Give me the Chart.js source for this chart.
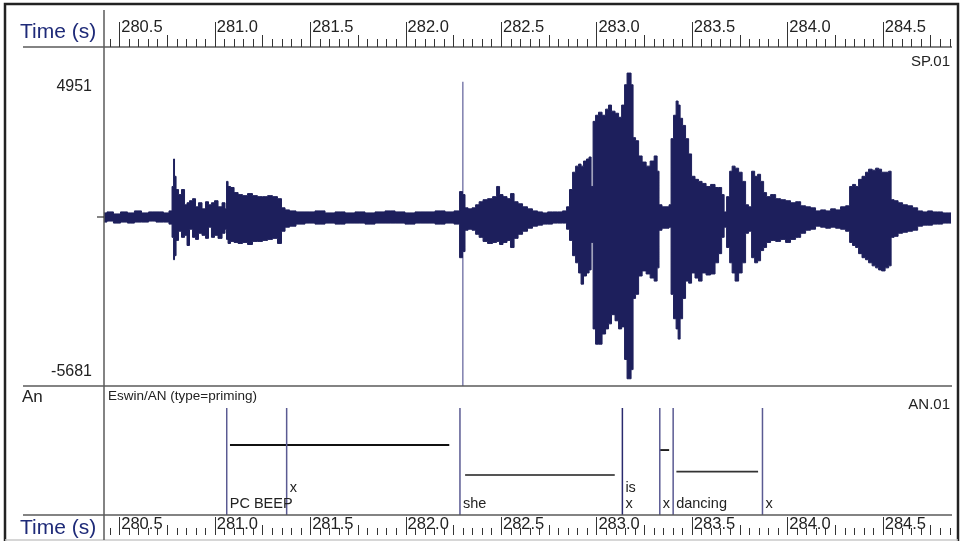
<!DOCTYPE html>
<html lang="en">
<head>
  <meta charset="UTF-8" />
  <title>SP.01 / AN.01 – waveform and annotation</title>
  <script src="https://cdn.jsdelivr.net/npm/chart.js"></script>
  <style>
    html, body { margin: 0; padding: 0; background: #fff; }
    canvas { display: block; }
  </style>
</head>
<body>
  <canvas id="wave" width="966" height="547"></canvas>

  <script>
    // time window shown (s)
    const timeMin = 280.420;
    const timeMax = 284.863;
    const timeTickLabels = ['280.5', '281.0', '281.5', '282.0', '282.5', '283.0', '283.5', '284.0', '284.5'];

    // amplitude labels
    const ampMax = 4951;
    const ampMin = -5681;

    // waveform envelope: time (s), max and min sample values
    const waveTimes = [
      280.420, 280.451, 280.488, 280.525, 280.561, 280.598, 280.635, 280.672, 280.713, 280.750,
      280.771, 280.782, 280.787, 280.792, 280.803, 280.818, 280.834, 280.850, 280.860, 280.876,
      280.892, 280.907, 280.923, 280.944, 280.960, 280.975, 280.991, 281.007, 281.028, 281.049,
      281.059, 281.065, 281.075, 281.091, 281.112, 281.133, 281.159, 281.185, 281.211, 281.237,
      281.264, 281.290, 281.316, 281.342, 281.358, 281.379, 281.405, 281.447, 281.499, 281.552,
      281.604, 281.657, 281.709, 281.761, 281.814, 281.866, 281.919, 281.971, 282.023, 282.076,
      282.128, 282.181, 282.233, 282.275, 282.291, 282.306, 282.317, 282.338, 282.359, 282.375,
      282.396, 282.416, 282.443, 282.469, 282.485, 282.500, 282.521, 282.542, 282.558, 282.579,
      282.600, 282.626, 282.652, 282.678, 282.705, 282.731, 282.757, 282.783, 282.809, 282.836,
      282.851, 282.867, 282.883, 282.899, 282.914, 282.925, 282.940, 282.956, 282.967, 282.977,
      282.988, 283.003, 283.019, 283.040, 283.056, 283.071, 283.087, 283.108, 283.124, 283.140,
      283.155, 283.166, 283.176, 283.187, 283.197, 283.213, 283.229, 283.250, 283.271, 283.292,
      283.313, 283.323, 283.333, 283.354, 283.375, 283.386, 283.396, 283.412, 283.423, 283.433,
      283.444, 283.459, 283.475, 283.491, 283.506, 283.527, 283.543, 283.564, 283.585, 283.611,
      283.632, 283.648, 283.664, 283.674, 283.690, 283.706, 283.716, 283.737, 283.753, 283.774,
      283.789, 283.805, 283.821, 283.837, 283.852, 283.868, 283.884, 283.899, 283.926, 283.952,
      283.978, 284.004, 284.030, 284.057, 284.083, 284.109, 284.135, 284.161, 284.188, 284.214,
      284.240, 284.266, 284.292, 284.319, 284.334, 284.350, 284.366, 284.381, 284.402, 284.418,
      284.434, 284.455, 284.471, 284.486, 284.502, 284.523, 284.539, 284.549, 284.570, 284.591,
      284.617, 284.643, 284.670, 284.696, 284.722, 284.748, 284.774, 284.801, 284.827, 284.858
    ];
    const waveUpper = [
      140, 175, 105, 175, 140, 210, 140, 175, 175, 140,
      210, 1050, 1995, 1400, 945, 770, 945, 420, 490, 560,
      630, 350, 490, 280, 525, 420, 490, 560, 350, 490,
      280, 1225, 1050, 1015, 840, 770, 735, 805, 735, 700,
      700, 735, 700, 630, 315, 245, 210, 175, 175, 210,
      140, 175, 140, 175, 140, 175, 210, 175, 140, 175,
      175, 210, 175, 210, 875, 770, 315, 280, 315, 420,
      525, 595, 630, 700, 1050, 770, 700, 630, 805, 525,
      455, 350, 280, 210, 175, 140, 175, 175, 175, 210,
      350, 945, 1540, 1750, 1820, 1750, 1925, 1995, 2065, 1050,
      3290, 3500, 3605, 3500, 3710, 3850, 3640, 3570, 3430, 3850,
      4550, 4951, 4951, 4550, 2730, 2625, 2100, 1890, 1750, 1925,
      2100, 1575, 420, 350, 350, 420, 2695, 3500, 3990, 3850,
      3395, 3150, 2695, 2170, 1400, 1295, 1225, 1155, 1050, 1120,
      1015, 1015, 770, 175, 700, 1575, 1750, 1680, 1540, 1225,
      420, 350, 1575, 1400, 1470, 1225, 840, 700, 770, 630,
      595, 560, 490, 525, 385, 350, 315, 210, 245, 210,
      280, 245, 350, 385, 1050, 1120, 1050, 1295, 1400, 1540,
      1645, 1610, 1680, 1645, 1540, 1540, 1575, 595, 560, 490,
      420, 385, 315, 210, 175, 210, 175, 175, 140, 140
    ];
    const waveLower = [
      -175, -140, -210, -175, -210, -175, -175, -140, -175, -175,
      -245, -700, -1470, -1330, -805, -490, -700, -630, -980, -420,
      -700, -770, -560, -630, -735, -350, -700, -630, -735, -560,
      -420, -770, -910, -840, -875, -910, -875, -945, -840, -840,
      -805, -770, -735, -910, -490, -350, -315, -245, -210, -245,
      -210, -245, -210, -210, -245, -210, -210, -210, -245, -210,
      -210, -245, -210, -245, -1400, -1190, -455, -420, -455, -595,
      -700, -840, -910, -875, -840, -945, -875, -805, -1050, -735,
      -595, -490, -385, -315, -280, -245, -245, -210, -210, -210,
      -420, -805, -1330, -1575, -1925, -2310, -2030, -1925, -1820, -875,
      -3850, -4375, -4375, -4025, -3850, -3675, -3360, -3570, -3850, -3780,
      -4900, -5565, -5565, -5250, -2800, -2660, -2030, -1855, -1960, -2100,
      -2205, -1750, -455, -385, -385, -350, -2660, -3500, -3850, -4200,
      -3500, -2800, -2205, -2275, -1925, -2100, -2205, -1925, -1995, -1960,
      -1575, -1260, -700, -350, -1050, -1575, -1925, -2205, -1925, -1575,
      -560, -490, -1400, -1575, -1505, -1155, -1050, -875, -805, -840,
      -770, -875, -770, -700, -560, -455, -420, -315, -350, -385,
      -350, -385, -420, -490, -875, -980, -1050, -1260, -1400, -1470,
      -1575, -1680, -1750, -1820, -1855, -1750, -1680, -700, -665, -560,
      -525, -490, -455, -315, -280, -280, -245, -245, -210, -210
    ];

    // marker line through the waveform
    const markerTime = 282.300;
    const markerRange = [4654, -5814];

    // annotation tier AN.01: segment boundaries (s) and labels
    const boundaryTimes = [281.063, 281.377, 282.285, 283.136, 283.332, 283.402, 283.870];
    const labelTimes  = [281.063, 281.377, 282.285, 283.136, 283.136, 283.332, 283.402, 283.870];
    const labelTexts  = ['PC BEEP', 'x', 'she', 'is', 'x', 'x', 'dancing', 'x'];
    const labelRows   = [0, 1, 0, 1, 0, 0, 0, 0];   // 0 = lower row, 1 = upper row

    // level bars inside the tier (tier height 0..1)
    const barStarts = [281.080, 282.312, 283.333, 283.419];
    const barEnds   = [282.229, 283.096, 283.381, 283.847];
    const barLevels = [0.654, 0.374, 0.607, 0.405];
    const barColors = ['#111111', '#555555', '#111111', '#333333'];

    const NAVY = '#1d1f5c';
    const FONT = '"Liberation Sans", Arial, sans-serif';

    // datasets
    const datasets = [
      {
        label: 'max',
        data: waveTimes.map((t, i) => ({ x: t, y: waveUpper[i] })),
        borderColor: NAVY, backgroundColor: NAVY, borderWidth: 1,
        pointRadius: 0, fill: '+1', stepped: 'middle', yAxisID: 'y'
      },
      {
        label: 'min',
        data: waveTimes.map((t, i) => ({ x: t, y: waveLower[i] })),
        borderColor: NAVY, backgroundColor: NAVY, borderWidth: 1,
        pointRadius: 0, fill: false, stepped: 'middle', yAxisID: 'y'
      },
      {
        label: 'marker',
        data: [{ x: markerTime, y: markerRange[0] }, { x: markerTime, y: markerRange[1] }],
        borderColor: '#7f7fae', borderWidth: 1.5, pointRadius: 0, fill: false, yAxisID: 'y'
      }
    ];

    boundaryTimes.forEach((t, i) => {
      datasets.push({
        label: 'boundary ' + i,
        data: [{ x: t, y: 0 }, { x: t, y: 1 }],
        borderColor: i === 3 ? '#2a2a6e' : '#5a5a92', borderWidth: 1.5,
        pointRadius: 0, fill: false, yAxisID: 'ya'
      });
    });

    barStarts.forEach((t, i) => {
      datasets.push({
        label: 'bar ' + i,
        data: [{ x: t, y: barLevels[i] }, { x: barEnds[i], y: barLevels[i] }],
        borderColor: barColors[i], borderWidth: 1.8,
        pointRadius: 0, fill: false, yAxisID: 'ya'
      });
    });

    // frame, time rulers and texts
    const framePlugin = {
      id: 'frame',
      beforeDraw(chart) {
        const ctx = chart.ctx;
        ctx.save();
        ctx.fillStyle = '#fff';
        ctx.fillRect(0, 0, chart.width, chart.height);
        ctx.restore();
      },
      afterDraw(chart) {
        const ctx = chart.ctx;
        const xs = chart.scales.x;
        const ys = chart.scales.y;
        const ya = chart.scales.ya;
        const area = chart.chartArea;
        ctx.save();

        // outer border
        ctx.strokeStyle = '#222';
        ctx.lineWidth = 2.5;
        ctx.beginPath();
        ctx.moveTo(5, 541); ctx.lineTo(5, 4); ctx.lineTo(958, 4); ctx.lineTo(958, 541);
        ctx.stroke();
        ctx.strokeStyle = '#c8c8c8';
        ctx.lineWidth = 1.5;
        ctx.beginPath(); ctx.moveTo(5, 540); ctx.lineTo(958, 540); ctx.stroke();

        // separators
        ctx.strokeStyle = '#5a5a5a';
        ctx.lineWidth = 1.5;
        [47, 386, 515].forEach(y => {
          ctx.beginPath(); ctx.moveTo(23, y); ctx.lineTo(area.right, y); ctx.stroke();
        });
        ctx.beginPath(); ctx.moveTo(area.left, 10); ctx.lineTo(area.left, 540); ctx.stroke();

        // zero mark of the waveform
        const y0 = ys.getPixelForValue(0);
        ctx.strokeStyle = '#333';
        ctx.lineWidth = 1.2;
        ctx.beginPath(); ctx.moveTo(97, y0); ctx.lineTo(area.left, y0); ctx.stroke();

        // time rulers (ticks every 0.05 s)
        const rulers = [
          { base: 47, major: 22, mid: 35, minor: 39, labelY: 27 },
          { base: 535, major: 517, mid: 525, minor: 528, labelY: 524 }
        ];
        ctx.strokeStyle = '#333';
        ctx.lineWidth = 1;
        rulers.forEach(r => {
          for (let k = Math.ceil(timeMin * 20); k <= Math.floor(timeMax * 20); k++) {
            const px = Math.round(xs.getPixelForValue(k / 20)) + 0.5;
            const top = k % 10 === 0 ? r.major : (k % 5 === 0 ? r.mid : r.minor);
            ctx.beginPath(); ctx.moveTo(px, r.base); ctx.lineTo(px, top); ctx.stroke();
          }
          ctx.fillStyle = '#222';
          ctx.font = '16.5px ' + FONT;
          ctx.textBaseline = 'middle';
          ctx.textAlign = 'left';
          timeTickLabels.forEach(lbl => {
            const px = xs.getPixelForValue(parseFloat(lbl));
            ctx.fillText(lbl, px + 2, r.labelY);
          });
        });

        // left column texts
        ctx.fillStyle = '#1e2a78';
        ctx.font = '21px ' + FONT;
        ctx.textAlign = 'left';
        ctx.textBaseline = 'middle';
        ctx.fillText('Time (s)', 20, 32);
        ctx.fillText('Time (s)', 20, 528);

        ctx.fillStyle = '#222';
        ctx.font = '16px ' + FONT;
        ctx.textAlign = 'right';
        ctx.fillText(String(ampMax), 92, 87);
        ctx.fillText(String(ampMin), 92, 372);

        ctx.textAlign = 'left';
        ctx.font = '17px ' + FONT;
        ctx.fillText('An', 22, 397);

        ctx.font = '15px ' + FONT;
        ctx.textAlign = 'right';
        ctx.fillText('SP.01', 950, 62);
        ctx.fillText('AN.01', 950, 405);

        ctx.textAlign = 'left';
        ctx.font = '13.5px ' + FONT;
        ctx.fillText('Eswin/AN (type=priming)', 108, 396);

        // annotation labels
        ctx.font = '14.5px ' + FONT;
        labelTexts.forEach((txt, i) => {
          const px = xs.getPixelForValue(labelTimes[i]) + 3;
          const py = labelRows[i] === 1 ? ya.getPixelForValue(0.25) : ya.getPixelForValue(0.10);
          ctx.fillText(txt, px, py);
        });

        ctx.restore();
      }
    };

    // pixel geometry of the panels: zero line at 217 px, 34.4 units per px,
    // annotation tier from 515 px (0) to 408 px (1), chart area 47..515 px
    const unitsPerPx = 34.4;
    const tierPx = 107;

    new Chart(document.getElementById('wave').getContext('2d'), {
      type: 'line',
      data: { datasets },
      plugins: [framePlugin],
      options: {
        responsive: false,
        animation: false,
        devicePixelRatio: 1,
        layout: { padding: { left: 104, right: 14, top: 47, bottom: 32 } },
        plugins: { legend: { display: false }, tooltip: { enabled: false } },
        elements: { line: { tension: 0 } },
        scales: {
          x: { type: 'linear', min: timeMin, max: timeMax, display: false },
          y: {
            type: 'linear', display: false,
            min: -(515 - 217) * unitsPerPx,
            max: (217 - 47) * unitsPerPx
          },
          ya: {
            type: 'linear', display: false,
            min: 0,
            max: (515 - 47) / tierPx
          }
        }
      }
    });
  </script>
</body>
</html>
